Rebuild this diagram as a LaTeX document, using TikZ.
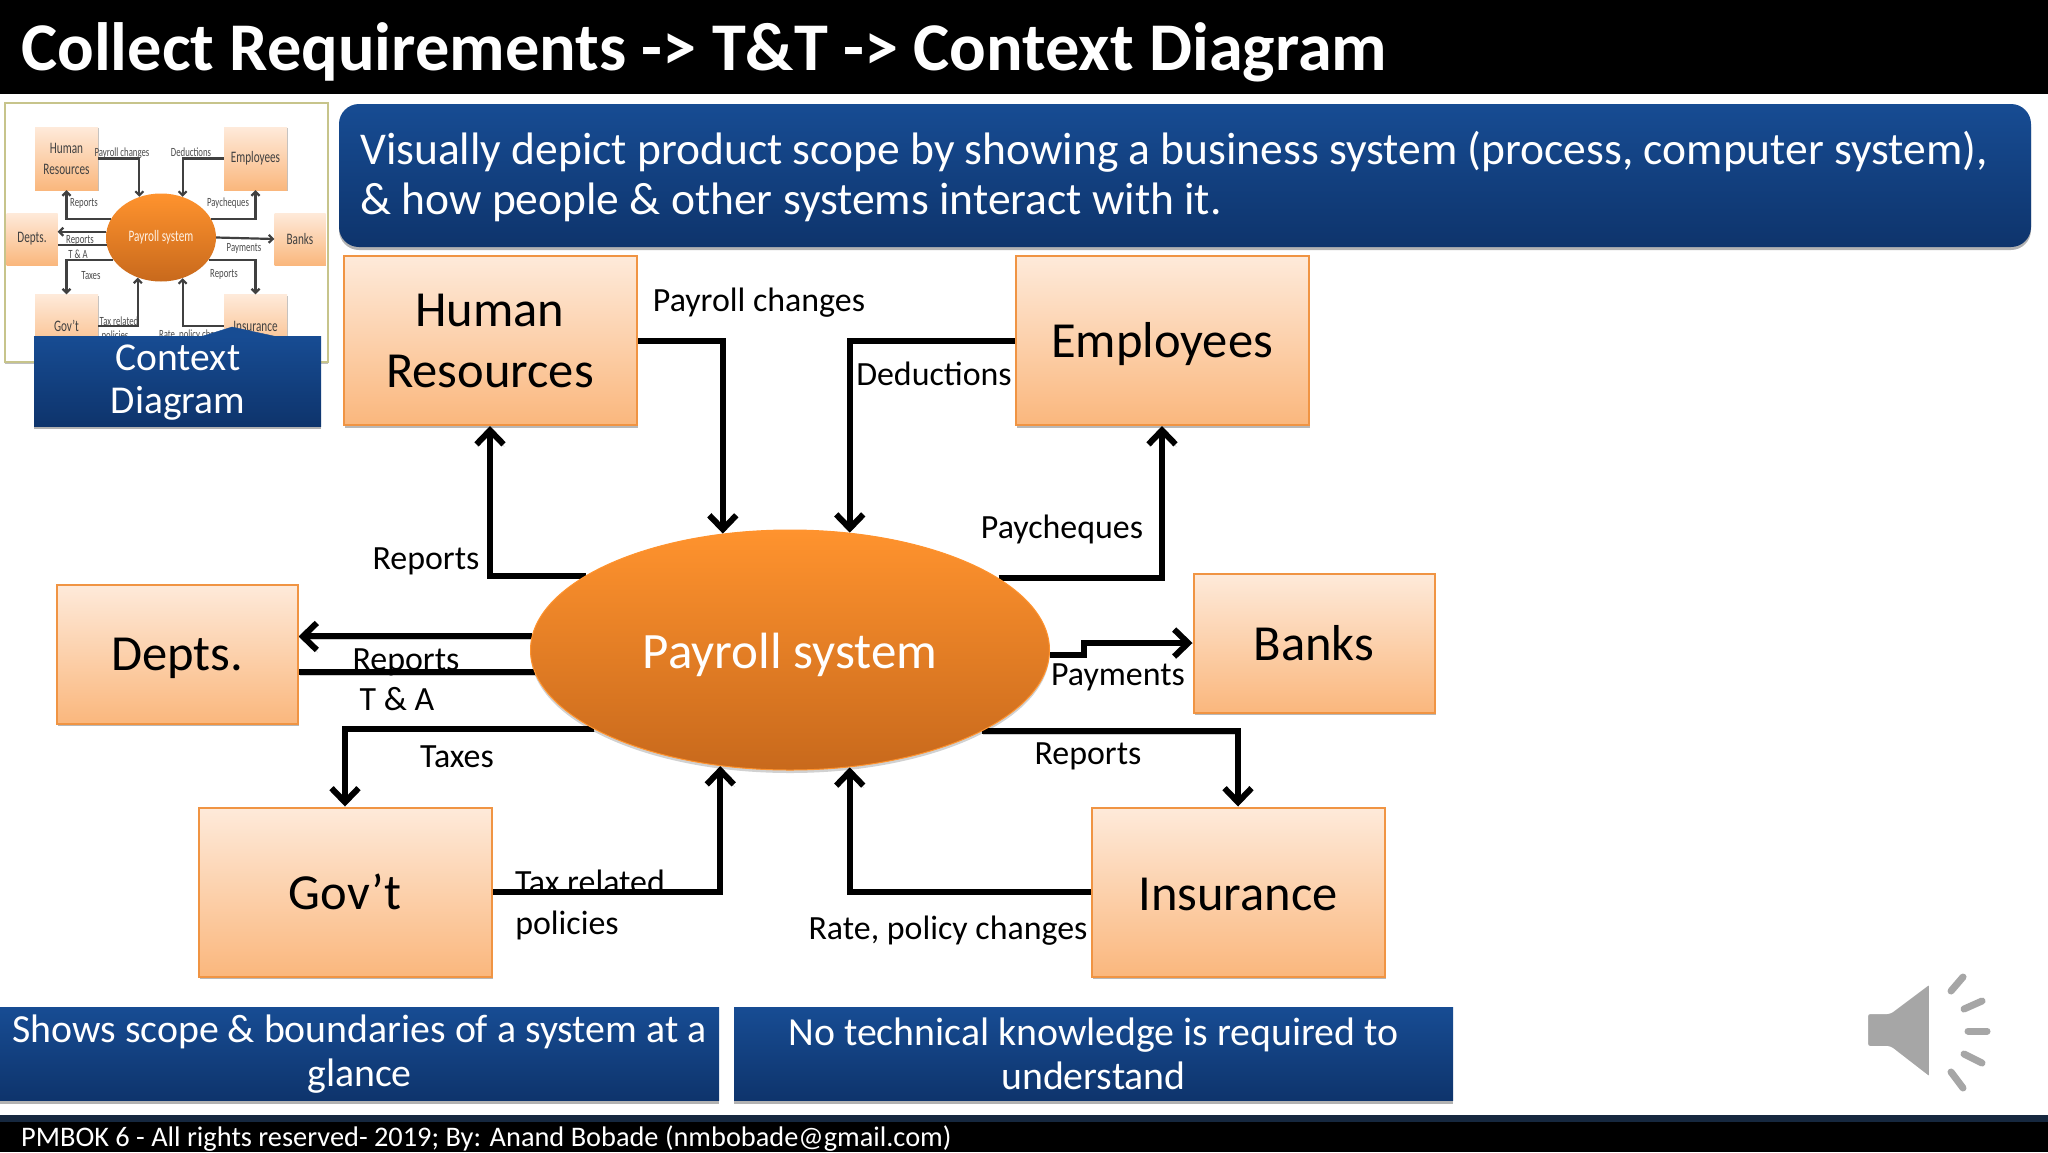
\documentclass[tikz,border=0pt]{standalone}
\usepackage{fontspec}
\setmainfont{Carlito}
\usetikzlibrary{arrows.meta,backgrounds,shadows,shapes.geometric}
\definecolor{boxtop}{HTML}{FEEADA}
\definecolor{boxbot}{HTML}{FAB77D}
\definecolor{boxline}{HTML}{F09443}
\definecolor{sysTop}{HTML}{FF932E}
\definecolor{sysBot}{HTML}{C8691C}
\definecolor{blueTop}{HTML}{174C93}
\definecolor{blueBot}{HTML}{0E346C}
\definecolor{footline}{HTML}{16283F}
\newcommand{\fs}[2]{\fontsize{#1}{#2}\selectfont}
\newcommand{\narrow}[2]{\scalebox{#1}[1]{#2}}
\newcommand{\dropby}[2]{\raisebox{-#1}[\height][\depth]{#2}}
\tikzset{
  actor/.style = {draw=boxline, line width=2pt, top color=boxtop, bottom color=boxbot, align=center, inner sep=0pt,
    drop shadow={shadow xshift=1pt, shadow yshift=-2.5pt, opacity=.28, fill=black}},
  actorbig/.style = {actor, minimum width=293pt, minimum height=169pt, font=\fs{50.5}{61}},
  actorsmall/.style = {actor, minimum width=241pt, minimum height=139pt, font=\fs{50.5}{61}},
  flow/.style = {line width=6pt, preaction={draw=black!20, transform canvas={shift={(1pt,-2.5pt)}}}},
  arrowflow/.style = {flow, -{Straight Barb[length=14pt,width=27pt,line width=6pt]}},
  lbl/.style = {font=\fs{33.9}{40}, inner sep=0pt},
  bluebox/.style = {top color=blueTop, bottom color=blueBot, text=white, align=center, inner sep=0pt,
    drop shadow={shadow xshift=0pt, shadow yshift=-3pt, opacity=.3, fill=black}},
  notebox/.style = {bluebox, font=\fs{39.8}{44}, minimum height=93pt},
  miniactor/.style = {draw=none, top color=boxtop, bottom color=boxbot, align=center, inner sep=0pt, font=\fs{16}{21}, text=black!75,
    drop shadow={shadow xshift=.5pt, shadow yshift=-1pt, opacity=.25, fill=black}},
  miniflow/.style = {line width=2.2pt, draw=black!75},
  miniarrow/.style = {miniflow, -{Straight Barb[length=4pt,width=8pt,line width=2.2pt]}},
  minilbl/.style = {font=\fs{12.5}{14}, inner sep=0pt, text=black!70},
  horn/.style = {draw=black!35, line width=7pt, line cap=round},
}
\begin{document}
\begin{tikzpicture}[x=1pt,y=-1pt]
\useasboundingbox (0,0) rectangle (2048,1152);

% title and footer
\fill[black] (0,0) rectangle (2048,94);
\node[text=white, anchor=west, inner sep=0pt, font=\fs{68.3}{70}\bfseries] (title) at (21,52) {Collect Requirements -> T\&T -> Context Diagram};
\fill[black] (0,1122) rectangle (2048,1152);
\fill[footline] (0,1115) rectangle (2048,1122);
\node[text=white, anchor=west, inner sep=0pt, font=\fs{28.35}{30}] (foot) at (21,1139) {PMBOK 6 - All rights reserved- 2019; By: Anand Bobade (nmbobade@gmail.com)};

% thumbnail
\node[draw=black!25!olive!40, line width=1.2pt, fill=white, minimum width=323pt, minimum height=259pt, inner sep=0pt,
  drop shadow={shadow xshift=0pt, shadow yshift=-2pt, opacity=.25, fill=black}] (thumb) at (166.5,232.5) {};
\node[miniactor, minimum width=63pt, minimum height=63pt] (mHr) at (66.5,158.5) {\narrow{.7}{Human}\\\narrow{.7}{Resources}};
\node[miniactor, minimum width=63pt, minimum height=63pt] (mEmp) at (255.5,158.5) {\narrow{.7}{Employees}};
\node[miniactor, minimum width=51pt, minimum height=52pt] (mDep) at (32,239) {\narrow{.7}{Depts.}};
\node[miniactor, minimum width=51pt, minimum height=52pt] (mBank) at (300,239) {\narrow{.7}{Banks}};
\node[miniactor, minimum width=63pt, minimum height=63pt] (mGov) at (66.5,326) {\narrow{.7}{Gov’t}};
\node[miniactor, minimum width=63pt, minimum height=63pt] (mIns) at (255.5,326) {\narrow{.7}{Insurance}};
\node[ellipse, top color=sysTop, bottom color=sysBot, minimum width=110pt, minimum height=88pt, inner sep=0pt, text=white!90!orange, font=\fs{16}{18}] (mSys) at (161,237.5) {\narrow{.7}{Payroll system}};
\draw[miniarrow] (mHr.east) -| (mSys.118);
\draw[miniarrow] (mEmp.west) -| (mSys.62);
\draw[miniarrow] (mSys.160) -| (mHr.south);
\draw[miniarrow] (mSys.20) -| (mEmp.south);
\draw[miniarrow] (mSys.174) -- (mSys.174 -| mDep.east);
\draw[miniflow] (mSys.188) -- (mSys.188 -| mDep.east);
\draw[miniarrow] (mSys.east) -- (mBank.west);
\draw[miniarrow] (mSys.205) -| (mGov.north);
\draw[miniarrow] (mSys.335) -| (mIns.north);
\draw[miniarrow] (mGov.east) -| (mSys.240);
\draw[miniarrow] (mIns.west) -| (mSys.298);
\node[minilbl] (mL1) at (122,153) {\narrow{.7}{Payroll changes}};
\node[minilbl] (mL2) at (191,152) {\narrow{.7}{Deductions}};
\node[minilbl] (mL3) at (84,203) {\narrow{.7}{Reports}};
\node[minilbl] (mL4) at (228,203) {\narrow{.7}{Paycheques}};
\node[minilbl] (mL5) at (80,240) {\narrow{.7}{Reports}};
\node[minilbl] (mL6) at (78,254) {\narrow{.7}{T \& A}};
\node[minilbl] (mL7) at (91,276) {\narrow{.7}{Taxes}};
\node[minilbl] (mL8) at (224,274) {\narrow{.7}{Reports}};
\node[minilbl] (mL9) at (244,248) {\narrow{.7}{Payments}};
\node[minilbl] (mL10) at (119,321) {\narrow{.7}{Tax related}};
\node[minilbl] (mL11) at (115,336) {\narrow{.7}{policies}};
\node[minilbl] (mL12) at (195,335) {\narrow{.7}{Rate, policy changes}};
\filldraw[blueTop, line join=round] (34,337) -- (200,337) -- (232,327) -- (278,337) -- cycle;
\node[bluebox, minimum width=287pt, minimum height=90pt] (ctx) at (177.5,381) {};
\node[text=white, align=center, inner sep=0pt, font=\fs{39.5}{43}] (ctxText) at (178,383) {Context\\Diagram};

% banner
\node[bluebox, rounded corners=20pt, minimum width=1692pt, minimum height=143pt] (banner) at (1185,175.5) {};
\node[text=white, align=left, anchor=west, inner sep=0pt, font=\fs{45.5}{50}] (bannerText) at (360,177)
  {Visually depict product scope by showing a business system (process, computer system),\\\& how people \& other systems interact with it.};

% context diagram
\node[actorbig] (hr) at (490,340.5) {Human\\Resources};
\node[actorbig] (emp) at (1162,340.5) {\dropby{4pt}{Employees}};
\node[actorsmall] (depts) at (177,654) {\dropby{4pt}{Depts.}};
\node[actorsmall] (banks) at (1314,643) {Banks};
\node[actorbig] (gov) at (345,892) {Gov’t};
\node[actorbig] (ins) at (1238,892) {\dropby{2pt}{Insurance}};
\node[ellipse, draw=sysTop, line width=1pt, top color=sysTop, bottom color=sysBot, minimum width=519pt, minimum height=240pt, inner sep=0pt,
  text=white, font=\fs{51}{60},
  drop shadow={shadow xshift=0pt, shadow yshift=-3pt, opacity=.18, fill=black}] (sys) at (790,650) {\dropby{5pt}{Payroll system}};

\begin{scope}[on background layer]
\fill[white] (0,0) rectangle (2048,1152);
\draw[arrowflow] (hr.east) -| (sys.120.3);
\draw[arrowflow] (emp.west) -| (sys.63);
\draw[arrowflow] (sys.160.1) -| (hr.south);
\draw[arrowflow] (sys.19.9) -| (emp.south);
\draw[arrowflow] (sys.177.6) -- (sys.177.6 -| depts.east);
\draw[flow] (sys.185.3) -- (sys.185.3 -| depts.east);
\draw[arrowflow] (sys.359.3) -- ++(34,0) |- (banks.west);
\draw[arrowflow] (sys.202.85) -| (gov.north);
\draw[arrowflow] (sys.337.3) -| (ins.north);
\draw[arrowflow] (gov.east) -| (sys.239.8);
\draw[arrowflow] (ins.west) -| (sys.297.5);
\end{scope}

\node[lbl] (l1) at (759,303) {Payroll changes};
\node[lbl] (l2) at (934,374) {Deductions};
\node[lbl] (l3) at (426,561) {Reports};
\node[lbl] (l4) at (1062,529) {Paycheques};
\node[lbl] (l5) at (406,662) {Reports};
\node[lbl] (l6) at (397,699) {T \& A};
\node[lbl] (l7) at (1118,677) {Payments};
\node[lbl] (l8) at (457,757) {Taxes};
\node[lbl] (l9) at (1088,756) {Reports};
\node[lbl] (l10) at (590,882) {Tax related};
\node[lbl] (l11) at (567,925) {policies};
\node[lbl] (l12) at (948,931) {Rate, policy changes};

% notes
\node[notebox, minimum width=719pt] (note1) at (359.5,1054) {Shows scope \& boundaries of a system at a\\glance};
\node[notebox, minimum width=719pt] (note2) at (1093.5,1054) {No technical knowledge is required to\\understand};

% speaker
\fill[black!35, rounded corners=3pt, draw=white, line width=2pt] (1867,1013) -- (1890,1013) -- (1930,983) -- (1930,1078) -- (1890,1047) -- (1867,1047) -- cycle;
\draw[horn] (1951,991) -- (1963,977);
\draw[horn] (1964,1009) -- (1982,1001);
\draw[horn] (1968,1031) -- (1987,1031);
\draw[horn] (1964,1054) -- (1982,1063);
\draw[horn] (1951,1072) -- (1963,1088);
\end{tikzpicture}
\end{document}
